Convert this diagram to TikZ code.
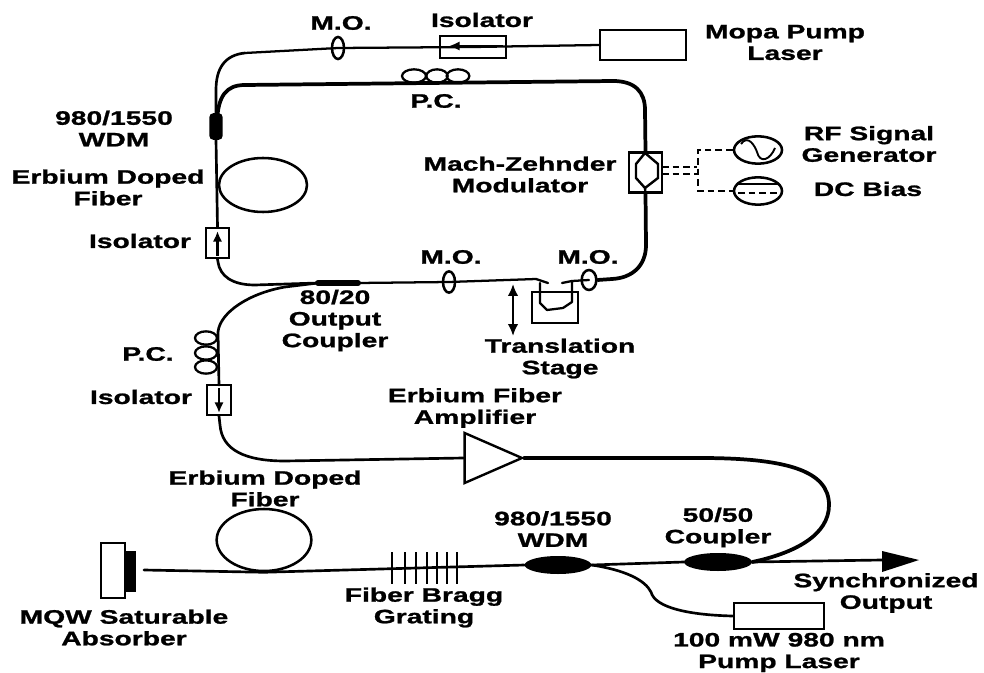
\documentclass[tikz,border=0pt]{standalone}
\usepackage{fontspec}
\setmainfont[FakeStretch=1.45,BoldFeatures={FakeBold=1.2}]{Liberation Sans}
\usetikzlibrary{shapes.geometric,arrows.meta}
\tikzset{
 lab/.style={font=\fontsize{14.6}{16.2}\selectfont\bfseries,align=center,inner sep=0pt,text=black},
 fib/.style={line width=2pt,line join=round,line cap=round},
 thinfib/.style={line width=1.7pt,line join=round,line cap=round},
 fatfib/.style={line width=2.8pt,line join=round,line cap=round},
 box/.style={draw,line width=1.6pt,rectangle,inner sep=0pt,fill=white},
 lens/.style={draw,line width=1.9pt,ellipse,inner sep=0pt},
 pc/.style={draw,line width=1.7pt,ellipse,inner sep=0pt,minimum width=16.5pt,minimum height=10pt},
 coupl/.style={fill=black,ellipse,inner sep=0pt},
 dashline/.style={line width=1.4pt,dash pattern=on 5pt off 3pt},
 iso/.style={-{Latex[length=8pt,width=7pt]},line width=1.7pt},
}
\begin{document}
\begin{tikzpicture}[x=0.75pt,y=-0.75pt]
\useasboundingbox (0,0) rectangle (984,673);
% top arm
\node[box,minimum width=64.5pt,minimum height=22pt] (mopa) at (643,45) {};
\node[box,minimum width=49.5pt,minimum height=16pt] (isotop) at (473,47) {};
\node[lens,minimum width=9pt,minimum height=16.5pt] (motop) at (338,48) {};
\coordinate (tcurve) at (245,53);
\node[fill=black,rectangle,rounded corners=3pt,inner sep=0pt,minimum width=10pt,minimum height=20pt] (wdmtop) at (216,126.5) {};
\draw[thinfib] (mopa.west) -- (isotop.center) -- (motop.center) -- (tcurve);
\draw[fib] (tcurve) .. controls (225,55) and (216,68) .. (216,90) -- (wdmtop.north);
\coordinate (itop) at (503,46);\coordinate (itip) at (449,46);
\draw[iso] (itop) -- (itip);
% ring
\node[pc,minimum width=18pt] (pca) at (414,76) {};
\node[pc,minimum width=16pt] (pcb) at (437,76) {};
\node[pc,minimum width=17pt] (pcc) at (458,76) {};
\coordinate (rtop) at (613,81);
\node[box,minimum width=24.5pt,minimum height=30pt] (mz) at (645.5,172.5) {};
\coordinate (hn) at (645,153);\coordinate (hs) at (645,188);
\coordinate (rstart) at (217,122);
\coordinate (rtl) at (245,85);
\draw[fatfib] (rstart) .. controls (218,96) and (226,85) .. (rtl) -- (rtop)
  .. controls (635,81) and (645,92) .. (645,110) -- (mz.north);
\draw[line width=1.8pt] (hn) -- (658,164) -- (658,178) -- (hs) -- (636,178) -- (636,164) -- cycle;
\draw[line width=1.8pt] (mz.north) -- (hn) (hs) -- (mz.south);
\node[lens,minimum width=9pt,minimum height=16pt] (mob) at (449,282) {};
\node[lens,minimum width=11pt,minimum height=15pt] (moc) at (589,280) {};
\coordinate (rb) at (612,279);
\draw[fatfib] (mz.south) -- (646,245) .. controls (646,266) and (632,278) .. (rb) -- (moc.east);
\node[box,minimum width=17pt,minimum height=22.5pt] (isol) at (217.5,243) {};
\draw[fib] (wdmtop.south) -- (isol.north);
\node[lens,minimum width=66pt,minimum height=40.5pt] (edf) at (263,185) {};
\coordinate (cpl) at (318,283);
\coordinate (cpr) at (358,283);
\draw[fib] (isol.south) -- (218,262) .. controls (220,276) and (232,285) .. (255,285) -- (cpl);
\draw[line width=4.5pt,line cap=round] (cpl) -- (cpr);
\coordinate (rin) at (536,279);
\draw[thinfib] (cpr) -- (mob.center) -- (rin);
\coordinate (ilb) at (217.5,256);\coordinate (ilt) at (217.5,231);
\draw[iso] (ilb) -- (ilt);
% translation stage
\node[draw,line width=1.6pt,rectangle,inner sep=0pt,minimum width=34.5pt,minimum height=23pt] (stage) at (555,307.5) {};
\coordinate (ra) at (540,283);\coordinate (rc) at (572,281);
\draw[thinfib] (rin) -- (548,283);
\draw[thinfib] (ra) -- (540,303) -- (547,310) -- (563,308) -- (572,302) -- (rc) -- (moc.center);
\draw[thinfib] (rc) -- (562,283);
\coordinate (dt) at (513,284);\coordinate (db) at (513,336);
\draw[{Latex[length=9pt,width=8pt]}-{Latex[length=9pt,width=8pt]},line width=1.7pt] (dt) -- (db);
% RF + DC
\node[draw,line width=1.9pt,ellipse,minimum width=36pt,minimum height=20.5pt,inner sep=0pt] (rf) at (758,150) {};
\node[draw,line width=1.9pt,ellipse,minimum width=36pt,minimum height=20.5pt,inner sep=0pt] (dc) at (758,191) {};
\draw[line width=1.4pt] (741,144) .. controls (748,134) and (755,146) .. (757,152) .. controls (760,164) and (770,160) .. (775,148);
\draw[line width=1.3pt] (737,184) -- (779,184);
\draw[dashline,line width=1.3pt] (738,193) -- (779,193);
\coordinate (da) at (662,167);\coordinate (db2) at (662,174);
\coordinate (dc1) at (697,167);\coordinate (dc2) at (697,174);
\draw[dashline] (da) -- (dc1);
\draw[dashline] (db2) -- (dc2);
\coordinate (dvt) at (698,150);\coordinate (dvb) at (698,191);
\draw[dashline] (rf.west) -- (dvt) -- (dvb) -- (dc.west);
% lower left
\coordinate (lstart) at (285,287);
\node[pc] (pcd) at (206,338) {};
\node[pc] (pce) at (206,353) {};
\node[pc] (pcf) at (206,367) {};
\node[box,minimum width=18pt,minimum height=22.5pt] (isod) at (219,400) {};
\draw[fib] (cpl) -- (lstart) .. controls (250,293) and (220,312) .. (218,332) -- (219,385) -- (isod.north);
\coordinate (idt) at (219,388);\coordinate (idb) at (219,413);
\draw[iso] (idt) -- (idb);
\node[draw,isosceles triangle,isosceles triangle apex angle=80,line width=1.8pt,minimum height=43pt,inner sep=0pt,fill=white,isosceles triangle stretches,minimum width=37.5pt] (amp) at (481,458) {};
\draw[fib] (isod.south) -- (220,425) .. controls (222,450) and (245,461) .. (285,461) -- (amp.west);
% lower line
\node[box,minimum width=18pt,minimum height=41pt] (mirror) at (113,570.5) {};
\node[fill=black,rectangle,inner sep=0pt,minimum width=8pt,minimum height=31pt] (mqw) at (130.5,571.5) {};
\node[lens,minimum width=71pt,minimum height=46.5pt] (edfb) at (264,540) {};
\coordinate (linest) at (144,570);
\node[coupl,minimum width=50pt,minimum height=13.5pt] (wdmb) at (558,565) {};
\node[coupl,minimum width=51pt,minimum height=13.5pt] (cplb) at (718,562) {};
\coordinate (tip) at (882,560);
\coordinate (tipb) at (919,560);
\draw[fib] (linest) -- (edfb.south) -- (wdmb.west);
\draw[fib] (wdmb.east) -- (cplb.west);
\draw[fib] (cplb.east) -- (tip);
\path[fill=black] (882,551) -- (tipb) -- (882,572) -- cycle;
\foreach \i/\x in {1/392,2/405,3/416,4/427,5/437,6/447,7/457}{
  \coordinate (gt\i) at (\x,552);\coordinate (gb\i) at (\x,584);
  \draw[line width=1.8pt] (gt\i) -- (gb\i);
}
\node[box,minimum width=68pt,minimum height=20pt] (pump) at (779,616) {};
\draw[fib] (wdmb.east) .. controls (625,570) and (645,580) .. (651,592) .. controls (655,608) and (690,615) .. (pump.west);
\draw[fatfib] (amp.east) -- (700,458) .. controls (785,458) and (829,470) .. (829,505) .. controls (829,535) and (795,553) .. (cplb.east);
% labels
\node[lab] (t1) at (341,23) {M.O.};
\node[lab] (t2) at (482,20) {Isolator};
\node[lab] (t3) at (785,42.5) {Mopa Pump\\Laser};
\node[lab] (t4) at (436,101) {P.C.};
\node[lab] (t5) at (114,128.5) {980/1550\\WDM};
\node[lab] (t6) at (108,187.5) {Erbium Doped\\Fiber};
\node[lab] (t7) at (140,241) {Isolator};
\node[lab] (t8) at (520,174.5) {Mach-Zehnder\\Modulator};
\node[lab] (t9) at (869,144) {RF Signal\\Generator};
\node[lab] (t10) at (868,189) {DC Bias};
\node[lab] (t11) at (451,257) {M.O.};
\node[lab] (t12) at (588,257) {M.O.};
\node[lab] (t13) at (335,320.5) {80/20\\Output\\Coupler};
\node[lab] (t14) at (560,358.5) {Translation\\Stage};
\node[lab] (t15) at (148,354) {P.C.};
\node[lab] (t16) at (141,397) {Isolator};
\node[lab] (t17) at (475,408) {Erbium Fiber\\Amplifier};
\node[lab] (t18) at (265,488.5) {Erbium Doped\\Fiber};
\node[lab] (t19) at (553,529) {980/1550\\WDM};
\node[lab] (t20) at (718,527.5) {50/50\\Coupler};
\node[lab] (t21) at (886,593) {Synchronized\\Output};
\node[lab] (t22) at (424,607.5) {Fiber Bragg\\Grating};
\node[lab] (t23) at (124,627.5) {MQW Saturable\\Absorber};
\node[lab] (t24) at (779,652.5) {100 mW 980 nm\\Pump Laser};
\end{tikzpicture}
\end{document}
